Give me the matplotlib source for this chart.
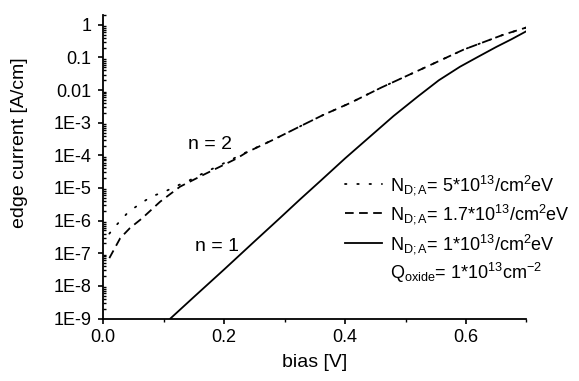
"""
Edge current vs bias for three interface-state densities (log scale).
"""

import matplotlib
matplotlib.use("Agg")
import matplotlib.pyplot as plt
from matplotlib.lines import Line2D
from matplotlib.ticker import LogLocator, FixedLocator, FuncFormatter

plt.rcParams["font.family"] = ["Liberation Sans", "DejaVu Sans"]
plt.rcParams["mathtext.fontset"] = "custom"
plt.rcParams["mathtext.rm"] = "Liberation Sans"
plt.rcParams["mathtext.it"] = "Liberation Sans:italic"

# data: bias [V] and edge current [A/cm]
dot_bias = [0.010, 0.022, 0.041, 0.060, 0.080, 0.102, 0.121, 0.141, 0.163, 0.204,
            0.237, 0.281, 0.331, 0.364, 0.408, 0.460, 0.524, 0.596, 0.662, 0.700]
dot_current = [4.0e-7, 7.4e-7, 1.8e-6, 3.2e-6, 5.5e-6, 7.8e-6, 1.15e-5, 1.66e-5, 2.7e-5, 6.3e-5,
               1.26e-4, 3.0e-4, 8.7e-4, 1.74e-3, 4.0e-3, 1.2e-2, 4.2e-2, 0.174, 0.50, 0.83]

dash_bias = [0.010, 0.028, 0.044, 0.064, 0.094, 0.127, 0.165, 0.220,
             0.237, 0.281, 0.331, 0.364, 0.408, 0.460, 0.524, 0.596, 0.662, 0.700]
dash_current = [7.1e-8, 2.9e-7, 5.9e-7, 1.17e-6, 3.8e-6, 1.1e-5, 2.5e-5, 7.9e-5,
                1.23e-4, 3.0e-4, 8.7e-4, 1.74e-3, 4.0e-3, 1.2e-2, 4.2e-2, 0.174, 0.50, 0.83]

solid_bias = [0.111, 0.150, 0.200, 0.250, 0.290, 0.325, 0.360, 0.400,
              0.440, 0.480, 0.520, 0.555, 0.590, 0.620, 0.650, 0.675, 0.700]
solid_current = [1.0e-9, 4.6e-9, 3.2e-8, 2.3e-7, 1.1e-6, 4.4e-6, 1.7e-5, 8.1e-5,
                 3.6e-4, 1.6e-3, 6.3e-3, 2.0e-2, 5.2e-2, 0.105, 0.21, 0.36, 0.64]

legend_labels = [
    r"N$_{\mathrm{D;A}}$= 5*10$^{13}$/cm$^{2}$eV",
    r"N$_{\mathrm{D;A}}$= 1.7*10$^{13}$/cm$^{2}$eV",
    r"N$_{\mathrm{D;A}}$= 1*10$^{13}$/cm$^{2}$eV",
    r"Q$_{\mathrm{oxide}}$= 1*10$^{13}$cm$^{-2}$",
]

y_ticks = [1, 0.1, 0.01, 1e-3, 1e-4, 1e-5, 1e-6, 1e-7, 1e-8, 1e-9]
y_tick_labels = ["1", "0.1", "0.01", "1E-3", "1E-4", "1E-5", "1E-6", "1E-7", "1E-8", "1E-9"]
x_ticks = [0.0, 0.2, 0.4, 0.6]


fig = plt.figure(figsize=(5.79, 3.81), dpi=100)
ax = fig.add_axes([0.1784, 0.164, 0.7309, 0.7966])

lw = 1.3
dotted = (0, (0.8, 6.0))
dashed = (0, (4.8, 3.0))
ax.plot(dot_bias, dot_current, color="black", lw=lw, linestyle=dotted, dash_capstyle="round")
ax.plot(dash_bias, dash_current, color="black", lw=lw, linestyle=dashed)
ax.plot(solid_bias, solid_current, color="black", lw=lw)

ax.set_yscale("log")
ax.set_xlim(0.0, 0.7)
ax.set_ylim(1e-9, 2.0)

ax.yaxis.set_major_locator(FixedLocator(y_ticks))
ax.yaxis.set_major_formatter(FuncFormatter(
    lambda v, p: y_tick_labels[y_ticks.index(min(y_ticks, key=lambda t: abs(t - v) / t))]))
ax.yaxis.set_minor_locator(LogLocator(base=10, subs=range(2, 10), numticks=30))
ax.xaxis.set_major_locator(FixedLocator(x_ticks))
ax.xaxis.set_minor_locator(FixedLocator([0.1, 0.3, 0.5, 0.7]))
ax.xaxis.set_major_formatter(FuncFormatter(lambda v, p: f"{v:.1f}"))

for side in ["top", "right"]:
    ax.spines[side].set_visible(False)
for side in ["left", "bottom"]:
    ax.spines[side].set_linewidth(1.3)

ax.tick_params(axis="both", which="major", labelsize=13, direction="out",
               length=3.5, width=1.2)
ax.tick_params(axis="y", which="major", pad=5)
ax.tick_params(axis="x", which="major", pad=4)
ax.tick_params(axis="x", which="minor", direction="out", length=2.5, width=1.0)
ax.tick_params(axis="y", which="minor", direction="in", length=2.5, width=1.0)

ax.set_xlabel("bias [V]", fontsize=14, labelpad=6)
ax.set_ylabel("edge current [A/cm]", fontsize=14)
ax.yaxis.set_label_coords(-0.178, 0.58)

ax.text(0.14, 2.1e-4, "n = 2", fontsize=14, va="center")
ax.text(0.152, 1.6e-7, "n = 1", fontsize=14, va="center")

handles = [
    Line2D([], [], color="black", lw=lw, linestyle=dotted, dash_capstyle="round"),
    Line2D([], [], color="black", lw=lw, linestyle=dashed),
    Line2D([], [], color="black", lw=lw),
    Line2D([], [], color="none", lw=0),
]
ax.legend(handles, legend_labels, loc="upper left", bbox_to_anchor=(0.571, 0.48),
          frameon=False, fontsize=13, handlelength=2.05, handletextpad=0.45,
          labelspacing=0.3, borderaxespad=0, borderpad=0)

fig.savefig("out.png", dpi=100)
